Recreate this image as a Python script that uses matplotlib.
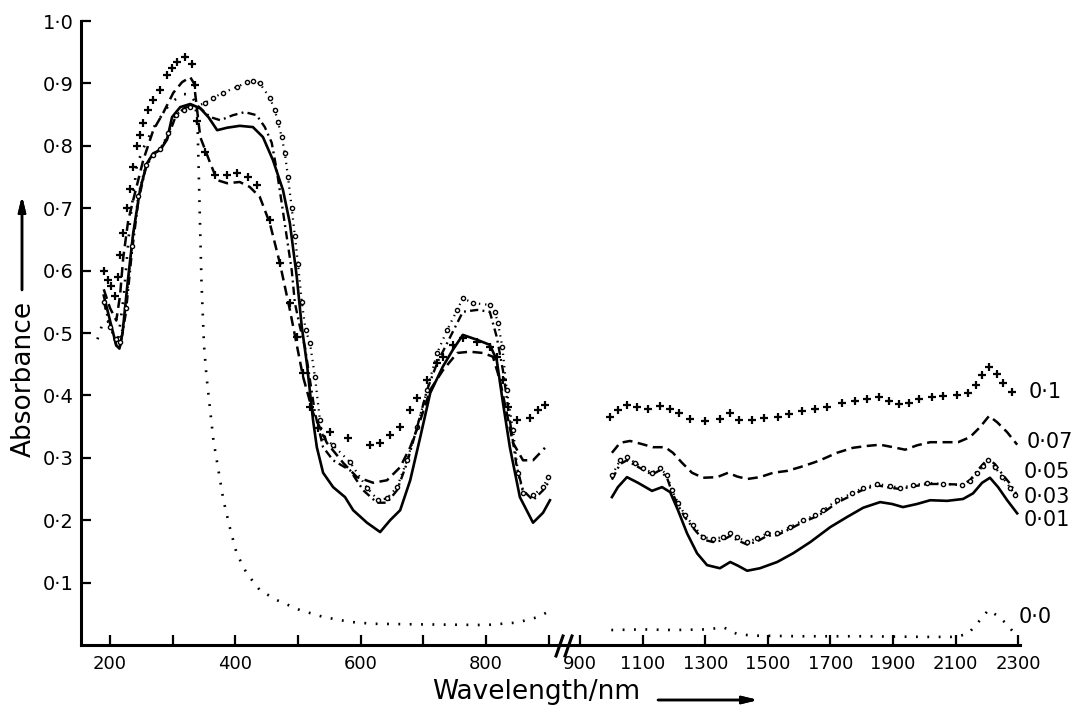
import matplotlib
matplotlib.use("Agg")
import matplotlib.pyplot as plt
from matplotlib.lines import Line2D

# absorbance spectra, visible range (left panel) and near-IR range (right panel)
labels = ["0·1", "0·07", "0·05", "0·03", "0·01", "0·0"]
label_pos = [(2332, 0.405), (2328, 0.325), (2318, 0.277), (2318, 0.237), (2318, 0.200), (2303, 0.045)]

# 0.1
c10_vis_nm = [190, 196, 202, 208, 213, 216, 221, 227, 232, 237, 243, 248, 253, 261, 269, 280, 291, 299, 307,
              320, 331, 336, 339, 352, 368, 387, 402, 420, 434, 455, 471, 487, 498, 508, 519, 532, 551, 580,
              615, 631, 647, 663, 679, 690, 706, 722, 731, 747, 763, 786, 806, 817, 827, 835, 849, 870, 883, 894]
c10_vis_abs = [0.600, 0.585, 0.575, 0.560, 0.590, 0.625, 0.660, 0.700, 0.730, 0.766, 0.800, 0.817, 0.836, 0.857,
               0.873, 0.889, 0.913, 0.925, 0.934, 0.942, 0.931, 0.897, 0.840, 0.790, 0.753, 0.753, 0.756, 0.750,
               0.737, 0.681, 0.612, 0.548, 0.494, 0.436, 0.381, 0.348, 0.341, 0.332, 0.320, 0.324, 0.336, 0.349,
               0.377, 0.396, 0.425, 0.452, 0.462, 0.481, 0.492, 0.486, 0.478, 0.462, 0.425, 0.381, 0.360, 0.364,
               0.377, 0.385]
c10_nir_nm = [996, 1021, 1050, 1082, 1117, 1155, 1188, 1216, 1252, 1300, 1347, 1380, 1409, 1450, 1488, 1533,
              1568, 1610, 1651, 1689, 1737, 1779, 1817, 1856, 1888, 1920, 1951, 1983, 2025, 2060, 2105, 2140,
              2166, 2185, 2207, 2233, 2252, 2281]
c10_nir_abs = [0.365, 0.377, 0.385, 0.381, 0.378, 0.383, 0.378, 0.372, 0.362, 0.359, 0.362, 0.372, 0.361, 0.361,
               0.364, 0.366, 0.370, 0.375, 0.378, 0.381, 0.388, 0.391, 0.394, 0.397, 0.391, 0.386, 0.388, 0.394,
               0.398, 0.399, 0.400, 0.404, 0.417, 0.433, 0.445, 0.434, 0.420, 0.405]

# 0.07
c07_vis_nm = [190, 200, 210, 216, 221, 229, 237, 253, 269, 285, 301, 315, 328, 334, 344, 360, 371, 387, 407,
              423, 439, 455, 471, 487, 508, 524, 546, 572, 594, 620, 642, 663, 679, 695, 711, 731, 754, 774,
              795, 811, 822, 833, 843, 859, 875, 894]
c07_vis_abs = [0.570, 0.540, 0.520, 0.560, 0.620, 0.680, 0.713, 0.777, 0.825, 0.853, 0.885, 0.902, 0.910, 0.900,
               0.814, 0.772, 0.745, 0.740, 0.742, 0.734, 0.718, 0.676, 0.612, 0.537, 0.430, 0.372, 0.324, 0.292,
               0.269, 0.260, 0.264, 0.285, 0.317, 0.360, 0.409, 0.440, 0.468, 0.470, 0.468, 0.462, 0.425, 0.372,
               0.324, 0.296, 0.296, 0.316]
c07_nir_nm = [1002, 1028, 1060, 1098, 1133, 1172, 1197, 1226, 1258, 1293, 1338, 1373, 1402, 1434, 1475, 1517,
              1562, 1603, 1645, 1667, 1721, 1772, 1817, 1859, 1900, 1939, 1977, 2019, 2060, 2108, 2146, 2178,
              2207, 2233, 2265, 2297]
c07_nir_abs = [0.308, 0.324, 0.327, 0.322, 0.317, 0.317, 0.308, 0.292, 0.276, 0.268, 0.269, 0.276, 0.270, 0.266,
               0.269, 0.276, 0.279, 0.285, 0.292, 0.296, 0.308, 0.316, 0.319, 0.321, 0.317, 0.313, 0.320, 0.325,
               0.325, 0.325, 0.333, 0.349, 0.367, 0.357, 0.341, 0.321]

# 0.05
c05_vis_nm = [190, 200, 210, 216, 225, 235, 245, 257, 268, 280, 293, 305, 318, 328, 340, 352, 365, 380, 402,
              419, 428, 439, 455, 463, 468, 474, 479, 484, 490, 495, 500, 506, 512, 519, 527, 535, 540, 556,
              583, 610, 628, 642, 658, 674, 690, 706, 722, 738, 754, 763, 779, 806, 814, 819, 826, 833, 843,
              851, 859, 875, 891, 899]
c05_vis_abs = [0.550, 0.510, 0.490, 0.485, 0.540, 0.640, 0.720, 0.770, 0.785, 0.795, 0.820, 0.850, 0.858, 0.862,
               0.864, 0.869, 0.877, 0.885, 0.894, 0.902, 0.904, 0.900, 0.877, 0.857, 0.838, 0.814, 0.788, 0.750,
               0.700, 0.655, 0.610, 0.550, 0.505, 0.484, 0.430, 0.360, 0.333, 0.320, 0.293, 0.252, 0.232, 0.235,
               0.253, 0.296, 0.349, 0.409, 0.468, 0.505, 0.537, 0.556, 0.548, 0.545, 0.534, 0.516, 0.478, 0.409,
               0.345, 0.276, 0.244, 0.240, 0.253, 0.269]
c05_nir_nm = [1002, 1028, 1050, 1076, 1101, 1130, 1155, 1178, 1194, 1213, 1236, 1261, 1293, 1325, 1357, 1380,
              1402, 1434, 1466, 1498, 1530, 1571, 1613, 1651, 1677, 1721, 1769, 1805, 1849, 1891, 1923, 1964,
              2009, 2060, 2121, 2146, 2169, 2188, 2204, 2226, 2249, 2275, 2290]
c05_nir_abs = [0.272, 0.296, 0.301, 0.292, 0.284, 0.276, 0.284, 0.272, 0.248, 0.228, 0.208, 0.192, 0.173, 0.170,
               0.173, 0.179, 0.173, 0.165, 0.171, 0.179, 0.179, 0.189, 0.200, 0.208, 0.216, 0.232, 0.243, 0.252,
               0.258, 0.255, 0.252, 0.256, 0.260, 0.258, 0.256, 0.263, 0.276, 0.287, 0.296, 0.285, 0.269, 0.252,
               0.240]

# 0.03
c03_vis_nm = [190, 200, 210, 216, 225, 235, 245, 257, 268, 280, 293, 305, 318, 330, 339, 350, 360, 376, 396,
              415, 434, 447, 458, 466, 474, 482, 490, 495, 503, 511, 519, 527, 540, 556, 583, 604, 626, 642,
              658, 674, 690, 706, 722, 743, 763, 786, 806, 817, 827, 838, 849, 859, 875, 891, 902]
c03_vis_abs = [0.550, 0.515, 0.480, 0.478, 0.530, 0.630, 0.710, 0.765, 0.785, 0.795, 0.815, 0.848, 0.860, 0.865,
               0.865, 0.855, 0.846, 0.841, 0.849, 0.854, 0.849, 0.830, 0.805, 0.761, 0.708, 0.654, 0.600, 0.548,
               0.510, 0.478, 0.425, 0.372, 0.317, 0.296, 0.280, 0.248, 0.228, 0.228, 0.248, 0.292, 0.349, 0.409,
               0.452, 0.494, 0.534, 0.537, 0.534, 0.494, 0.440, 0.360, 0.285, 0.248, 0.232, 0.248, 0.264]
c03_nir_nm = [1002, 1028, 1050, 1076, 1101, 1130, 1155, 1178, 1194, 1213, 1236, 1261, 1293, 1325, 1357, 1380,
              1402, 1434, 1466, 1498, 1530, 1571, 1613, 1651, 1677, 1721, 1769, 1805, 1849, 1891, 1923, 1964,
              2009, 2060, 2121, 2146, 2169, 2188, 2204, 2226, 2249, 2275, 2297]
c03_nir_abs = [0.265, 0.290, 0.296, 0.288, 0.281, 0.273, 0.280, 0.268, 0.245, 0.224, 0.204, 0.188, 0.169, 0.165,
               0.168, 0.175, 0.168, 0.161, 0.166, 0.175, 0.176, 0.186, 0.197, 0.205, 0.212, 0.228, 0.240, 0.249,
               0.256, 0.252, 0.250, 0.254, 0.258, 0.258, 0.257, 0.264, 0.279, 0.290, 0.298, 0.290, 0.274, 0.258,
               0.240]

# 0.01
c01_vis_nm = [190, 200, 210, 215, 220, 228, 237, 248, 259, 269, 280, 291, 299, 312, 328, 344, 357, 371, 387,
              407, 428, 444, 460, 476, 487, 498, 506, 514, 524, 530, 540, 556, 575, 588, 610, 631, 647, 663,
              679, 695, 711, 731, 747, 763, 786, 806, 817, 827, 838, 854, 875, 891, 902]
c01_vis_abs = [0.560, 0.520, 0.480, 0.475, 0.500, 0.580, 0.660, 0.730, 0.772, 0.788, 0.793, 0.810, 0.846, 0.862,
               0.867, 0.860, 0.846, 0.825, 0.829, 0.832, 0.830, 0.814, 0.777, 0.729, 0.676, 0.590, 0.510, 0.452,
               0.360, 0.317, 0.276, 0.253, 0.237, 0.216, 0.196, 0.181, 0.200, 0.216, 0.264, 0.333, 0.404, 0.446,
               0.473, 0.497, 0.489, 0.481, 0.457, 0.388, 0.317, 0.237, 0.196, 0.212, 0.232]
c01_nir_nm = [1002, 1021, 1050, 1085, 1130, 1162, 1188, 1213, 1242, 1274, 1306, 1347, 1380, 1405, 1434, 1475,
              1530, 1581, 1636, 1700, 1753, 1805, 1859, 1897, 1932, 1977, 2019, 2073, 2124, 2156, 2185, 2210,
              2236, 2265, 2297]
c01_nir_abs = [0.237, 0.253, 0.269, 0.260, 0.247, 0.253, 0.245, 0.216, 0.179, 0.147, 0.128, 0.123, 0.133, 0.127,
               0.119, 0.123, 0.133, 0.147, 0.165, 0.189, 0.205, 0.220, 0.229, 0.226, 0.221, 0.226, 0.232, 0.231,
               0.234, 0.243, 0.260, 0.268, 0.253, 0.232, 0.211]

# 0.0
c00_vis_nm = [180, 188, 196, 205, 213, 222, 232, 243, 255, 270, 290, 305, 317, 328, 336, 340, 343, 346, 350,
              354, 358, 365, 373, 381, 391, 402, 418, 439, 466, 503, 540, 583, 620, 700, 800, 850, 880, 899]
c00_vis_abs = [0.490, 0.515, 0.520, 0.500, 0.490, 0.560, 0.680, 0.770, 0.800, 0.830, 0.860, 0.875, 0.883, 0.882,
               0.870, 0.820, 0.700, 0.580, 0.480, 0.430, 0.393, 0.328, 0.280, 0.232, 0.189, 0.147, 0.115, 0.088,
               0.072, 0.056, 0.045, 0.037, 0.034, 0.033, 0.032, 0.036, 0.044, 0.053]
c00_nir_nm = [1000, 1100, 1200, 1300, 1360, 1400, 1450, 1600, 1800, 2000, 2100, 2140, 2170, 2205, 2240, 2270, 2290]
c00_nir_abs = [0.024, 0.025, 0.024, 0.025, 0.028, 0.018, 0.015, 0.014, 0.014, 0.013, 0.013, 0.018, 0.035, 0.056,
               0.045, 0.030, 0.017]

W, H = 1075, 721
fig = plt.figure(figsize=(W / 100, H / 100), dpi=100)
plt.rcParams['font.family'] = ['DejaVu Sans']

bottom, height = 1 - 645 / H, 624 / H
ax1 = fig.add_axes([81 / W, bottom, 484 / W, height])
ax2 = fig.add_axes([565 / W, bottom, 455 / W, height], sharey=ax1)

ax1.set_xlim(153.7, 926)
ax2.set_xlim(852, 2306)
ax1.set_ylim(0, 1.0)

plus_kw = dict(linestyle='none', marker='+', markersize=5.5, mew=1.6, color='black')
circ_kw = dict(linestyle=(0, (0.6, 2.2)), lw=1.6, color='black', marker='o', markersize=3.0,
               mfc='white', mec='black', mew=1.0)
dash_kw = dict(linestyle=(0, (4, 2.2)), lw=1.8, color='black')
dashdot_kw = dict(linestyle=(0, (3.5, 1.8, 0.8, 1.8)), lw=1.7, color='black')
solid_kw = dict(linestyle='-', lw=1.9, color='black')
dot_kw = dict(linestyle=(0, (0.7, 3.6)), lw=1.9, color='black')

ax1.plot(c00_vis_nm, c00_vis_abs, **dot_kw)
ax1.plot(c01_vis_nm, c01_vis_abs, **solid_kw)
ax1.plot(c03_vis_nm, c03_vis_abs, **dashdot_kw)
ax1.plot(c05_vis_nm, c05_vis_abs, markevery=0.012, **circ_kw)
ax1.plot(c07_vis_nm, c07_vis_abs, **dash_kw)
ax1.plot(c10_vis_nm, c10_vis_abs, **plus_kw)

ax2.plot(c00_nir_nm, c00_nir_abs, **dot_kw)
ax2.plot(c01_nir_nm, c01_nir_abs, **solid_kw)
ax2.plot(c03_nir_nm, c03_nir_abs, **dashdot_kw)
ax2.plot(c05_nir_nm, c05_nir_abs, markevery=0.012, **circ_kw)
ax2.plot(c07_nir_nm, c07_nir_abs, **dash_kw)
ax2.plot(c10_nir_nm, c10_nir_abs, **plus_kw)

for lab, (x, y) in zip(labels, label_pos):
    ax2.text(x, y, lab, ha='left', va='center', fontsize=15, clip_on=False)

# axes styling
for ax in (ax1, ax2):
    for side in ('top', 'right'):
        ax.spines[side].set_visible(False)
    ax.spines['bottom'].set_linewidth(2.2)
    ax.spines['left'].set_linewidth(2.2)
    ax.tick_params(axis='both', direction='in', length=7, width=1.6, labelsize=13, pad=7)
ax2.spines['left'].set_visible(False)
ax2.tick_params(axis='y', left=False, labelleft=False)

yt = [0.1, 0.2, 0.3, 0.4, 0.5, 0.6, 0.7, 0.8, 0.9, 1.0]
ax1.set_yticks(yt)
ax1.set_yticklabels([f"{v:.1f}".replace('.', '·') for v in yt])
ax1.tick_params(axis='y', pad=5, labelsize=14)

vis_ticks = [200, 300, 400, 500, 600, 700, 800, 900]
ax1.set_xticks(vis_ticks)
ax1.set_xticklabels([str(t) if t in (200, 400, 600, 800) else '' for t in vis_ticks])
nir_ticks = [900, 1100, 1300, 1500, 1700, 1900, 2100, 2300]
ax2.set_xticks(nir_ticks)
ax2.set_xticklabels([str(t) for t in nir_ticks])

# axis break marks
for x0 in (556, 565):
    fig.add_artist(Line2D([x0 / W, (x0 + 7) / W], [1 - 656 / H, 1 - 636 / H],
                          transform=fig.transFigure, color='black', lw=2.2))

# axis titles with arrows
fig.text(24 / W, 1 - 379 / H, 'Absorbance', rotation=90, ha='center', va='center', fontsize=19)
fig.text(536 / W, 1 - 692 / H, 'Wavelength/nm', ha='center', va='center', fontsize=19)
arrow = dict(arrowstyle='-|>,head_length=0.9,head_width=0.22', lw=1.8, color='black', shrinkA=0, shrinkB=0)
fig.add_artist(plt.annotate('', xy=(22 / W, 1 - 196 / H), xytext=(22 / W, 1 - 290 / H),
                            xycoords='figure fraction', arrowprops=arrow))
fig.add_artist(plt.annotate('', xy=(758 / W, 1 - 700 / H), xytext=(658 / W, 1 - 700 / H),
                            xycoords='figure fraction', arrowprops=arrow))

fig.savefig('out.png', dpi=100, facecolor='white')
